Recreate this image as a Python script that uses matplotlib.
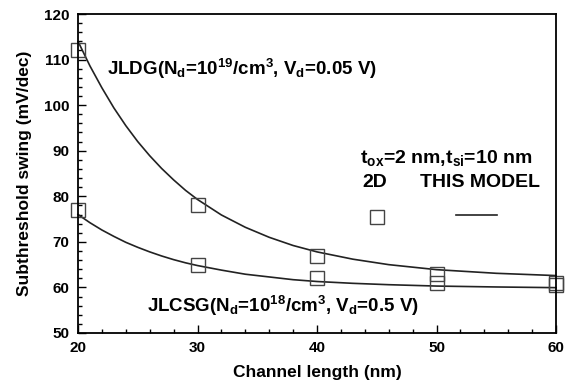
import matplotlib
matplotlib.use("Agg")
import matplotlib.pyplot as plt
from matplotlib.ticker import MultipleLocator

plt.rcParams['font.family'] = ['Liberation Sans', 'DejaVu Sans']
plt.rcParams['mathtext.fontset'] = 'custom'
plt.rcParams['mathtext.rm'] = 'Liberation Sans:bold'
plt.rcParams['mathtext.it'] = 'Liberation Sans:bold'
plt.rcParams['mathtext.bf'] = 'Liberation Sans:bold'

# 2D simulation points
length_2d = [20, 30, 40, 50, 60]
jldg_2d = [112, 78, 67, 63, 61]
jlcsg_2d = [77, 65, 62, 61, 60.5]

# model curves
length_model = [20, 21, 22, 23, 24, 25, 26, 27, 28, 29, 30, 32, 34, 36, 38,
                40, 43, 46, 50, 55, 60]
jldg_model = [114, 108.6, 103.8, 99.4, 95.5, 92.0, 88.9, 86.1, 83.6, 81.3,
              79.3, 75.9, 73.2, 71.0, 69.2, 67.8, 66.2, 65.0, 63.9, 63.1, 62.6]
jlcsg_model = [76.0, 74.2, 72.6, 71.2, 69.9, 68.8, 67.8, 66.9, 66.1, 65.4,
               64.8, 63.8, 62.9, 62.3, 61.7, 61.3, 60.9, 60.6, 60.3, 60.1, 59.95]

fig = plt.figure(figsize=(5.7, 3.86), dpi=100)
ax = fig.add_axes([78 / 570, 1 - 333 / 386, (556 - 78) / 570, (333 - 14) / 386])

lc = '#222222'
ax.plot(length_model, jldg_model, color=lc, lw=1.2, clip_on=False)
ax.plot(length_model, jlcsg_model, color=lc, lw=1.2, clip_on=False)
ax.plot(length_2d, jldg_2d, ls='none', marker='s', ms=10, mfc='none',
        mec='#444444', mew=1.0, clip_on=False)
ax.plot(length_2d, jlcsg_2d, ls='none', marker='s', ms=10, mfc='none',
        mec='#444444', mew=1.0, clip_on=False)

# hand-made legend
ax.plot([45], [75.5], ls='none', marker='s', ms=10, mfc='none',
        mec='#444444', mew=1.0)
ax.plot([51.6, 55.1], [75.9, 75.9], color=lc, lw=1.2)

ax.set_xlim(20, 60)
ax.set_ylim(50, 120)
ax.xaxis.set_major_locator(MultipleLocator(10))
ax.xaxis.set_minor_locator(MultipleLocator(2))
ax.yaxis.set_major_locator(MultipleLocator(10))
ax.yaxis.set_minor_locator(MultipleLocator(2))
ax.tick_params(which='both', direction='in', top=False, right=False,
               labelsize=11, width=1)
ax.tick_params(which='major', length=6)
ax.tick_params(which='minor', length=3)
ax.tick_params(axis='x', pad=6)
ax.tick_params(axis='y', pad=6)
for lab in ax.get_xticklabels() + ax.get_yticklabels():
    lab.set_fontweight('bold')
for sp in ax.spines.values():
    sp.set_linewidth(1.3)

ax.set_xlabel('Channel length (nm)', fontsize=12.5, fontweight='bold', labelpad=7)
ax.set_ylabel('Subthreshold swing (mV/dec)', fontsize=12.5, fontweight='bold', labelpad=9)

tk = dict(fontsize=13.5, fontweight='bold', va='center', ha='left')
ax.text(22.4, 108.0, r'JLDG(N$_d$=10$^{19}$/cm$^3$, V$_d$=0.05 V)', **tk)
ax.text(25.8, 56.0, r'JLCSG(N$_d$=10$^{18}$/cm$^3$, V$_d$=0.5 V)', **tk)
lg = dict(fontsize=14, fontweight='bold', va='center', ha='left')
ax.text(43.6, 88.4, r't$_{ox}$=2 nm,t$_{si}$=10 nm', **lg)
ax.text(43.8, 83.1, '2D', **lg)
ax.text(48.6, 83.1, 'THIS MODEL', **lg)

fig.savefig('out.png', dpi=100)
